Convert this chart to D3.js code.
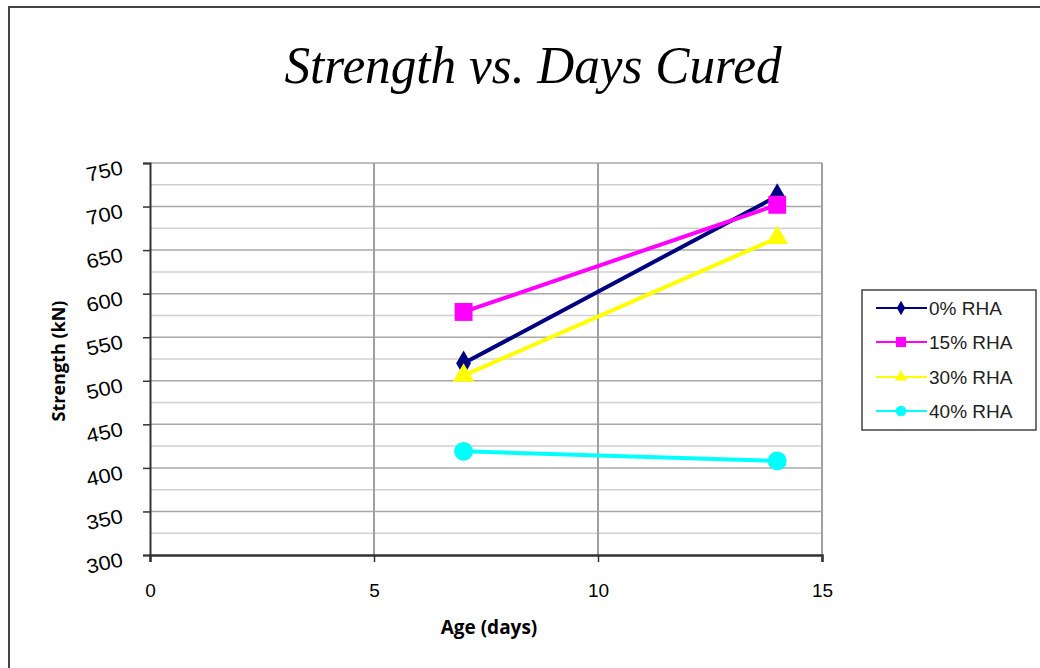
<!DOCTYPE html>
<html><head><meta charset="utf-8">
<script src="https://cdn.jsdelivr.net/npm/d3@7"></script>
<style>body{margin:0;background:#fff}svg{display:block}</style>
</head><body>
<svg id="c" width="1040" height="668"></svg>
<script>
const days = [7, 14];
const seriesNames = ["0% RHA", "15% RHA", "30% RHA", "40% RHA"];
const rha0 = [520, 712];
const rha15 = [579, 702];
const rha30 = [506, 664];
const rha40 = [419, 408];
const xTicks = [0, 5, 10, 15];
const yTicks = [300, 350, 400, 450, 500, 550, 600, 650, 700, 750];
const yMinor = [325, 375, 425, 475, 525, 575, 625, 675, 725];
const colors = ["#000080", "#FF00FF", "#FFFF00", "#00FFFF"];
const symbols = ["diamond", "square", "triangle", "circle"];

const series = [rha0, rha15, rha30, rha40].map((v, i) => ({name: seriesNames[i], values: v, color: colors[i], sym: symbols[i]}));

const svg = d3.select("#c");
// frame
svg.append("path").attr("d", "M9,1000 V7 H1100").attr("fill", "none").attr("stroke", "#444").attr("stroke-width", 2);

const x = d3.scaleLinear().domain([0, 15]).range([150, 822]);
const y = d3.scaleLinear().domain([300, 750]).range([555, 163]);

// title
svg.append("text").attr("x", 533).attr("y", 83).attr("text-anchor", "middle")
  .attr("font-family", "Liberation Serif, serif").attr("font-style", "italic")
  .attr("font-size", 53).attr("textLength", 497).attr("lengthAdjust", "spacingAndGlyphs")
  .text("Strength vs. Days Cured");

// grid
const g = svg.append("g");
g.selectAll(".ymin").data(yMinor).join("line")
  .attr("x1", 150).attr("x2", 822).attr("y1", d => y(d)).attr("y2", d => y(d))
  .attr("stroke", "#d0d0d0").attr("stroke-width", 1.5);
g.selectAll(".ymaj").data(yTicks.slice(1)).join("line")
  .attr("x1", 150).attr("x2", 822).attr("y1", d => y(d)).attr("y2", d => y(d))
  .attr("stroke", "#a8a8a8").attr("stroke-width", 1.5);
g.selectAll(".xg").data(xTicks.slice(1)).join("line")
  .attr("x1", d => x(d)).attr("x2", d => x(d)).attr("y1", 163).attr("y2", 555)
  .attr("stroke", "#a0a0a0").attr("stroke-width", 2);

// axes
const yAxis = d3.axisLeft(y).tickValues(yTicks).tickSize(7).tickFormat(d3.format("d"));
const ya = svg.append("g").attr("transform", "translate(150,0)").call(yAxis);
ya.select(".domain").attr("stroke", "#333").attr("stroke-width", 2);
ya.selectAll(".tick line").attr("stroke", "#333").attr("stroke-width", 1.5);
ya.selectAll(".tick text").attr("font-family", "Liberation Sans, Arial, sans-serif").attr("font-size", 20)
  .attr("fill", "#000").attr("x", 0).attr("y", 0).attr("dy", 0).attr("text-anchor", "end")
  .attr("transform", "translate(-26,10.5) rotate(-12) scale(1.1,1)");

const xAxis = d3.axisBottom(x).tickValues(xTicks).tickSize(7).tickFormat(d3.format("d"));
const xa = svg.append("g").attr("transform", "translate(0,555)").call(xAxis);
xa.select(".domain").attr("stroke", "#333").attr("stroke-width", 2.5);
xa.selectAll(".tick line").attr("stroke", "#333").attr("stroke-width", 1.5);
xa.selectAll(".tick text").attr("font-family", "Liberation Sans, Arial, sans-serif").attr("font-size", 19)
  .attr("fill", "#000").attr("y", 42).attr("dy", 0);

// axis titles
svg.append("text").attr("transform", "translate(65,361) rotate(-90)").attr("text-anchor", "middle")
  .attr("font-family", "Open Sans, sans-serif").attr("font-weight", "bold").attr("font-size", 18)
  .text("Strength (kN)");
svg.append("text").attr("x", 489).attr("y", 634).attr("text-anchor", "middle")
  .attr("font-family", "Open Sans, sans-serif").attr("font-weight", "bold").attr("font-size", 19)
  .text("Age (days)");

const symMap = {diamond: d3.symbolDiamond, square: d3.symbolSquare, triangle: d3.symbolTriangle, circle: d3.symbolCircle};
const symSize = {diamond: 190, square: 320, triangle: 200, circle: 280};

const line = d3.line().x((d, i) => x(days[i])).y(d => y(d));
series.forEach(s => {
  svg.append("path").attr("d", line(s.values)).attr("fill", "none").attr("stroke", s.color).attr("stroke-width", 4);
  svg.selectAll(null).data(s.values).join("path")
    .attr("transform", (d, i) => `translate(${x(days[i])},${y(d)})`)
    .attr("d", d3.symbol().type(symMap[s.sym]).size(symSize[s.sym]))
    .attr("fill", s.color);
});

// legend
const lg = svg.append("g");
lg.append("rect").attr("x", 862).attr("y", 290).attr("width", 174).attr("height", 140)
  .attr("fill", "#fff").attr("stroke", "#444").attr("stroke-width", 1.5);
const ly = [308, 342, 377, 411];
series.forEach((s, i) => {
  lg.append("line").attr("x1", 876).attr("x2", 927).attr("y1", ly[i]).attr("y2", ly[i]).attr("stroke", s.color).attr("stroke-width", 2);
  lg.append("path").attr("transform", `translate(901,${ly[i]})`)
    .attr("d", d3.symbol().type(symMap[s.sym]).size(symSize[s.sym] * 0.32)).attr("fill", s.color);
  lg.append("text").attr("x", 929).attr("y", ly[i] + 6.5).attr("font-family", "Liberation Sans, Arial, sans-serif")
    .attr("font-size", 19).attr("fill", "#222").text(s.name);
});
</script>
</body></html>
